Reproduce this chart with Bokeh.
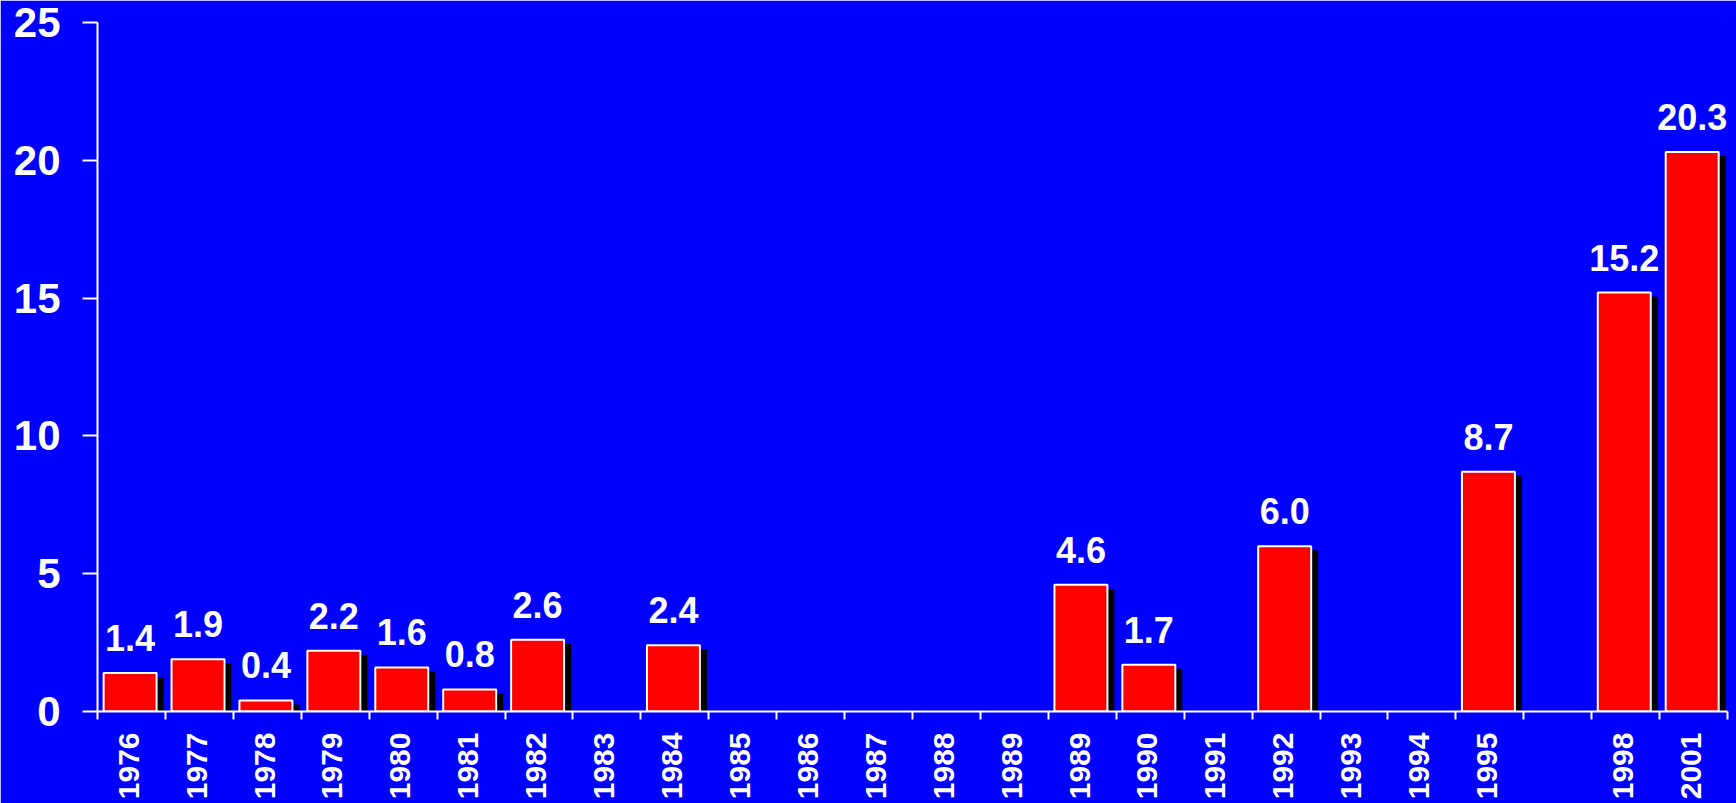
import math
from bokeh.plotting import figure
from bokeh.models import FixedTicker, Range1d, ColumnDataSource
from bokeh.transform import dodge
from bokeh.core.properties import value
from bokeh.embed import file_html
from bokeh.resources import INLINE

# ---- data ----
year_labels = ["1976", "1977", "1978", "1979", "1980", "1981", "1982", "1983",
               "1984", "1985", "1986", "1987", "1988", "1989", "1989", "1990",
               "1991", "1992", "1993", "1994", "1995", "", "1998", "2001"]
values = [1.4, 1.9, 0.4, 2.2, 1.6, 0.8, 2.6, None,
          2.4, None, None, None, None, None, 4.6, 1.7,
          None, 6.0, None, None, 8.7, None, 15.2, 20.3]
y_ticks = [0, 5, 10, 15, 20, 25]

BLUE = "#0000FF"
RED = "#FF0000"
FONT = "Liberation Sans"

n = len(year_labels)
centers = [i + 0.5 for i in range(n)]
label_pos = [c - 0.04 for c in centers]
bx = [centers[i] - 0.02 for i, v in enumerate(values) if v is not None]
bv = [v for v in values if v is not None]
src = ColumnDataSource(dict(
    x=bx, top=bv,
    stop=[v - 0.145 for v in bv],
    label=[f"{v:.1f}" for v in bv],
))

p = figure(width=1736, height=803, output_backend="svg", toolbar_location=None,
           x_range=Range1d(0, n), y_range=Range1d(0, 25),
           min_border_left=97, min_border_right=9, min_border_top=22,
           min_border_bottom=92)
p.background_fill_color = BLUE
p.border_fill_color = BLUE
p.outline_line_color = BLUE
p.xgrid.visible = False
p.ygrid.visible = False

# shadow
p.vbar(x=dodge("x", 0.088), top="stop", bottom=0, width=0.81, source=src,
       fill_color="black", line_color=None)
# bars
p.vbar(x="x", top="top", bottom=0, width=0.78, source=src,
       fill_color=RED, line_color="white", line_width=2)
# value labels
p.text(x="x", y="top", text="label", source=src, text_align="center",
       text_baseline="alphabetic", y_offset=-35, text_color="white",
       text_font=value(FONT), text_font_style="bold", text_font_size="36px")

# x axis
xa = p.xaxis[0]
xa.ticker = FixedTicker(ticks=label_pos, minor_ticks=list(range(n + 1)))
xa.major_label_overrides = {c: lab for c, lab in zip(label_pos, year_labels)}
xa.major_label_orientation = math.pi / 2
xa.major_tick_out = 0
xa.major_tick_in = 0
xa.minor_tick_out = 8
xa.minor_tick_in = 0
xa.minor_tick_line_color = "white"
xa.minor_tick_line_width = 2
xa.axis_line_color = "white"
xa.axis_line_width = 2
xa.major_label_standoff = 13
xa.major_label_text_color = "white"
xa.major_label_text_font = FONT
xa.major_label_text_font_style = "bold"
xa.major_label_text_font_size = "30px"

# y axis
ya = p.yaxis[0]
ya.ticker = FixedTicker(ticks=y_ticks)
ya.major_tick_out = 15
ya.major_tick_in = 0
ya.minor_tick_out = 0
ya.minor_tick_in = 0
ya.major_tick_line_color = "white"
ya.major_tick_line_width = 2
ya.axis_line_color = "white"
ya.axis_line_width = 2
ya.major_label_standoff = 22
ya.major_label_text_color = "white"
ya.major_label_text_font = FONT
ya.major_label_text_font_style = "bold"
ya.major_label_text_font_size = "42px"

open("out.html", "w").write(file_html(p, INLINE))
